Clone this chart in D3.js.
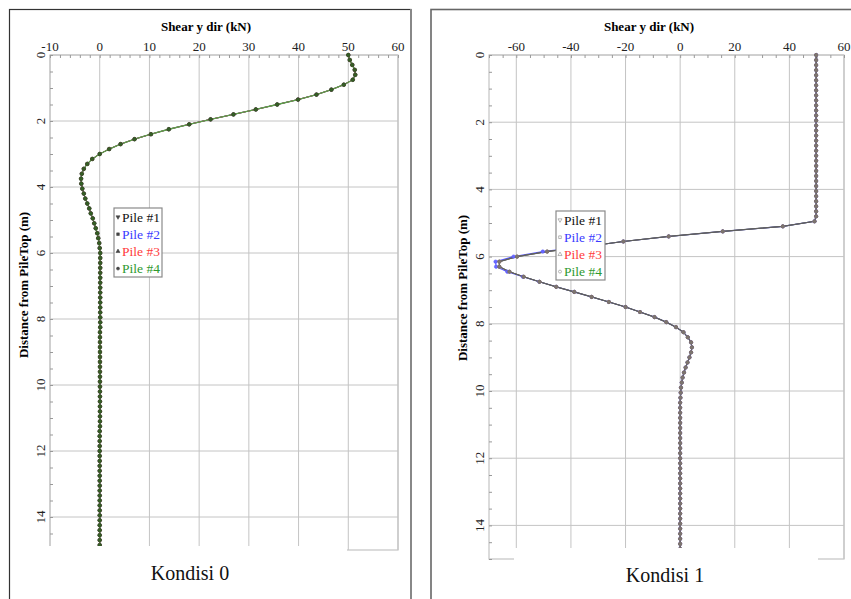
<!DOCTYPE html>
<html>
<head>
<meta charset="utf-8">
<script src="https://cdn.jsdelivr.net/npm/d3@7"></script>
<style>
  body { margin: 0; background: #fff; }
  svg { display: block; font-family: "Liberation Serif", "DejaVu Serif", serif; }
</style>
</head>
<body>
<svg id="chart" width="851" height="599"></svg>
<script>
// depth of every node (m), same for both conditions
var depth = [
    0, 0.15, 0.3, 0.45, 0.6, 0.75, 0.9, 1.05, 1.2, 1.35,
    1.5, 1.65, 1.8, 1.95, 2.1, 2.25, 2.4, 2.55, 2.7, 2.85,
    3, 3.15, 3.3, 3.45, 3.6, 3.75, 3.9, 4.05, 4.2, 4.35,
    4.5, 4.65, 4.8, 4.95, 5.1, 5.25, 5.4, 5.55, 5.7, 5.85,
    6, 6.15, 6.3, 6.45, 6.6, 6.75, 6.9, 7.05, 7.2, 7.35,
    7.5, 7.65, 7.8, 7.95, 8.1, 8.25, 8.4, 8.55, 8.7, 8.85,
    9, 9.15, 9.3, 9.45, 9.6, 9.75, 9.9, 10.05, 10.2, 10.35,
    10.5, 10.65, 10.8, 10.95, 11.1, 11.25, 11.4, 11.55, 11.7, 11.85,
    12, 12.15, 12.3, 12.45, 12.6, 12.75, 12.9, 13.05, 13.2, 13.35,
    13.5, 13.65, 13.8, 13.95, 14.1, 14.25, 14.4, 14.55, 14.7, 14.85
];

// Kondisi 0 - shear (kN), all four piles identical
var shear0 = [
    50.0, 50.3, 50.8, 51.3, 51.4, 50.9, 49.1, 46.6, 43.6, 39.9,
    35.7, 31.4, 26.9, 22.3, 18.0, 13.9, 10.3, 7.0, 4.2, 1.9,
    0.0, -1.5, -2.5, -3.2, -3.6, -3.75, -3.7, -3.5, -3.2, -2.9,
    -2.5, -2.1, -1.8, -1.4, -1.1, -0.8, -0.5, -0.3, -0.1, 0.0,
    0.1, 0.1, 0.1, 0.1, 0.1, 0.1, 0.1, 0.1, 0.1, 0.1,
    0.1, 0.1, 0.1, 0.1, 0.1, 0.1, 0.05, 0.05, 0.05, 0.05,
    0.05, 0.05, 0.05, 0.05, 0.05, 0.05, 0.05, 0.05, 0.05, 0.05,
    0.05, 0.05, 0.05, 0.05, 0.05, 0.05, 0, 0, 0, 0,
    0, 0, 0, 0, 0, 0, 0, 0, 0, 0,
    0, 0, 0, 0, 0, 0, 0, 0, 0, 0
];

// Kondisi 1 - shear (kN), piles 1, 3, 4
var shear1 = [
    49.8, 49.8, 49.8, 49.8, 49.8, 49.8, 49.8, 49.8, 49.8, 49.8,
    49.8, 49.8, 49.8, 49.8, 49.8, 49.8, 49.8, 49.8, 49.8, 49.8,
    49.8, 49.8, 49.8, 49.8, 49.8, 49.8, 49.8, 49.8, 49.8, 49.8,
    49.8, 49.8, 49.8, 49.2, 37.6, 15.6, -4.2, -20.8, -34.4, -48.7,
    -59.7, -66.2, -66.2, -62.5, -57.3, -51.5, -45.4, -38.8, -32.4, -26.1,
    -20.0, -14.7, -9.4, -5.1, -1.5, 1.2, 2.8, 4.0, 4.3, 4.0,
    3.4, 2.7, 2.0, 1.4, 0.9, 0.6, 0.3, 0.2, 0.1, 0.0,
    0, 0, 0, 0, 0, 0, 0, 0, 0, 0,
    0, 0, 0, 0, 0, 0, 0, 0, 0, 0,
    0, 0, 0, 0, 0, 0, 0, 0, 0, 0
];

// Kondisi 1 - pile 2 differs slightly around the trough
var shear1Pile2 = [
    49.8, 49.8, 49.8, 49.8, 49.8, 49.8, 49.8, 49.8, 49.8, 49.8,
    49.8, 49.8, 49.8, 49.8, 49.8, 49.8, 49.8, 49.8, 49.8, 49.8,
    49.8, 49.8, 49.8, 49.8, 49.8, 49.8, 49.8, 49.8, 49.8, 49.8,
    49.8, 49.8, 49.8, 49.2, 37.6, 15.6, -4.2, -20.8, -34.6, -50.3,
    -61.0, -67.6, -67.4, -63.3, -57.6, -51.6, -45.4, -38.8, -32.4, -26.1,
    -20.0, -14.7, -9.4, -5.1, -1.5, 1.2, 2.8, 4.0, 4.3, 4.0,
    3.4, 2.7, 2.0, 1.4, 0.9, 0.6, 0.3, 0.2, 0.1, 0.0,
    0, 0, 0, 0, 0, 0, 0, 0, 0, 0,
    0, 0, 0, 0, 0, 0, 0, 0, 0, 0,
    0, 0, 0, 0, 0, 0, 0, 0, 0, 0
];

var pileNames = ["Pile #1", "Pile #2", "Pile #3", "Pile #4"];
var pileColors = ["#111111", "#3b3bff", "#ff3b3b", "#2f9a2f"];

var xTicks0 = [-10, 0, 10, 20, 30, 40, 50, 60];
var xTickLabels0 = ["-10", "0", "10", "20", "30", "40", "50", "60"];
var xTicks1 = [-60, -40, -20, 0, 20, 40, 60];
var xTickLabels1 = ["-60", "-40", "-20", "0", "20", "40", "60"];
var yTicks = [0, 2, 4, 6, 8, 10, 12, 14];
var yTickLabels = ["0", "2", "4", "6", "8", "10", "12", "14"];

var xTitle = "Shear y dir (kN)";
var yTitle = "Distance from PileTop (m)";
var captions = ["Kondisi 0", "Kondisi 1"];

var svg = d3.select("#chart");

// outer frames of the two pictures
svg.append("rect").attr("x", 9.5).attr("y", 9.5).attr("width", 401.5).attr("height", 620)
    .attr("fill", "none").attr("stroke", "#333").attr("stroke-width", 1.2);
svg.append("line").attr("x1", 411).attr("x2", 411).attr("y1", 9).attr("y2", 599)
    .attr("stroke", "#888").attr("stroke-width", 2);
svg.append("rect").attr("x", 431).attr("y", 9.5).attr("width", 440).attr("height", 620)
    .attr("fill", "none").attr("stroke", "#666").attr("stroke-width", 1.6);

var drawPanel = function (opt) {
    var x = d3.scaleLinear().domain(opt.xDomain).range([opt.left, opt.right]);
    var y = d3.scaleLinear().domain([0, 15]).range([opt.top, opt.bottom]);
    var g = svg.append("g");

    // grid
    g.selectAll(".vg").data(opt.xTicks).enter().append("line")
        .attr("x1", function (d) { return x(d); }).attr("x2", function (d) { return x(d); })
        .attr("y1", opt.top).attr("y2", opt.bottom)
        .attr("stroke", "#c4c4c4").attr("stroke-width", 1);
    g.selectAll(".hg").data(yTicks).enter().append("line")
        .attr("x1", opt.left).attr("x2", opt.right)
        .attr("y1", function (d) { return y(d); }).attr("y2", function (d) { return y(d); })
        .attr("stroke", "#c4c4c4").attr("stroke-width", 1);
    g.append("rect").attr("x", opt.left).attr("y", opt.top)
        .attr("width", opt.right - opt.left).attr("height", opt.bottom - opt.top)
        .attr("fill", "none").attr("stroke", "#c4c4c4").attr("stroke-width", 1.2);

    // minor ticks
    var xAxis = d3.axisTop(x)
        .tickValues(d3.range(opt.xDomain[0], opt.xDomain[1] + 0.01, opt.xMinor))
        .tickSize(-3).tickFormat("");
    var gx = g.append("g").attr("transform", "translate(0," + opt.top + ")").call(xAxis);
    gx.select(".domain").remove();
    gx.selectAll("line").attr("stroke", "#999");

    var yAxis = d3.axisLeft(y).tickValues(d3.range(0, 15.01, 0.5)).tickSize(-3).tickFormat("");
    var gy = g.append("g").attr("transform", "translate(" + opt.left + ",0)").call(yAxis);
    gy.select(".domain").remove();
    gy.selectAll("line").attr("stroke", "#999");

    // tick labels
    g.selectAll(".xl").data(opt.xTicks).enter().append("text")
        .attr("x", function (d) { return x(d); }).attr("y", 51)
        .attr("text-anchor", "middle").style("font-size", "13px").attr("fill", "#222")
        .text(function (d, i) { return opt.xTickLabels[i]; });
    g.selectAll(".yl").data(yTicks).enter().append("text")
        .attr("transform", function (d) { return "translate(" + (opt.left - 10) + "," + y(d) + ") rotate(-90)"; })
        .attr("text-anchor", "middle").attr("dy", "0.35em")
        .style("font-size", "13px").attr("fill", "#222")
        .text(function (d, i) { return yTickLabels[i]; });

    // titles
    g.append("text").attr("x", opt.titleX).attr("y", 31).attr("text-anchor", "middle")
        .style("font-size", "13px").style("font-weight", "bold").text(xTitle);
    g.append("text").attr("transform", "translate(" + opt.yTitleX + "," + opt.yTitleY + ") rotate(-90)")
        .attr("text-anchor", "middle").attr("dy", "0.35em")
        .style("font-size", "13px").style("font-weight", "bold").text(yTitle);

    // series
    var line = d3.line()
        .x(function (d) { return x(d[1]); })
        .y(function (d) { return y(d[0]); });

    opt.series.forEach(function (s) {
        var pts = depth.map(function (d, i) { return [d, s.values[i]]; });
        g.append("path").datum(pts)
            .attr("fill", "none").attr("stroke", s.line).attr("stroke-width", s.width)
            .attr("d", line);
    });
    opt.series.forEach(function (s) {
        var pts = depth.map(function (d, i) { return [d, s.values[i]]; });
        g.selectAll(null).data(pts).enter().append("circle")
            .attr("cx", function (d) { return x(d[1]); })
            .attr("cy", function (d) { return y(d[0]); })
            .attr("r", s.r).attr("fill", s.marker).attr("stroke", s.markerStroke).attr("stroke-width", 0.6);
    });

    // white cover under the plot where the caption sits
    svg.append("rect").attr("x", opt.coverX0).attr("y", opt.coverY)
        .attr("width", opt.coverX1 - opt.coverX0).attr("height", 599 - opt.coverY)
        .attr("fill", "#fff");
    svg.append("text").attr("x", opt.captionX).attr("y", opt.captionY)
        .attr("text-anchor", "middle").style("font-size", "20px").attr("fill", "#111")
        .text(opt.caption);

    // legend
    var lg = svg.append("g").attr("transform", "translate(" + opt.legX + "," + opt.legY + ")");
    lg.append("rect").attr("x", 0).attr("y", 0).attr("width", opt.legW).attr("height", 69)
        .attr("fill", "#fff").attr("stroke", "#8a8a8a").attr("stroke-width", 1.2);
    var symbols = [d3.symbolTriangle, d3.symbolSquare, d3.symbolTriangle, d3.symbolCircle];
    pileNames.forEach(function (name, i) {
        var cy = 9 + i * 17.2;
        lg.append("path")
            .attr("d", d3.symbol().type(symbols[i]).size(7)())
            .attr("transform", "translate(4," + cy + ")" + (i === 0 ? " rotate(180)" : ""))
            .attr("fill", opt.legMarkerFill).attr("stroke", opt.legMarkerStroke).attr("stroke-width", 0.6);
        lg.append("text").attr("x", 8).attr("y", cy).attr("dy", "0.35em")
            .style("font-size", "13.5px").attr("fill", pileColors[i]).text(name);
    });
};

drawPanel({
    xDomain: [-10, 60], xTicks: xTicks0, xTickLabels: xTickLabels0, xMinor: 2,
    left: 50, right: 398, top: 55, bottom: 550,
    titleX: 206, yTitleX: 23, yTitleY: 285,
    series: [
        {values: shear0, line: pileColors[0], width: 1, marker: "#222", markerStroke: "#222", r: 1.6},
        {values: shear0, line: pileColors[1], width: 1, marker: "#3b3bff", markerStroke: "#3b3bff", r: 1.6},
        {values: shear0, line: pileColors[2], width: 1, marker: "#ff3b3b", markerStroke: "#ff3b3b", r: 1.6},
        {values: shear0, line: "#5aa04a", width: 1.3, marker: "#335f26", markerStroke: "#2c5220", r: 1.9}
    ],
    coverX0: 30, coverX1: 347, coverY: 546,
    caption: captions[0], captionX: 190, captionY: 580,
    legX: 114, legY: 208, legW: 48,
    legMarkerFill: "#444", legMarkerStroke: "#444"
});

// pile 2 drawn first so the others cover it where the values agree
drawPanel({
    xDomain: [-70, 60], xTicks: xTicks1, xTickLabels: xTickLabels1, xMinor: 5,
    left: 489, right: 844, top: 55, bottom: 559,
    titleX: 649, yTitleX: 462, yTitleY: 288,
    series: [
        {values: shear1Pile2, line: "#5555ff", width: 1.1, marker: "#6a6aff", markerStroke: "#5555ff", r: 1.7},
        {values: shear1, line: "#666", width: 1.2, marker: "#6e6e6e", markerStroke: "#6e6e6e", r: 1.6},
        {values: shear1, line: "#6a6a6a", width: 1, marker: "#807470", markerStroke: "#8a706a", r: 1.6},
        {values: shear1, line: "#5c5c5c", width: 0.9, marker: "#7a7772", markerStroke: "#7f6e66", r: 1.6}
    ],
    coverX0: 514, coverX1: 818, coverY: 548,
    caption: captions[1], captionX: 665, captionY: 582,
    legX: 556, legY: 211, legW: 49,
    legMarkerFill: "#fff", legMarkerStroke: "#888"
});
</script>
</body>
</html>
